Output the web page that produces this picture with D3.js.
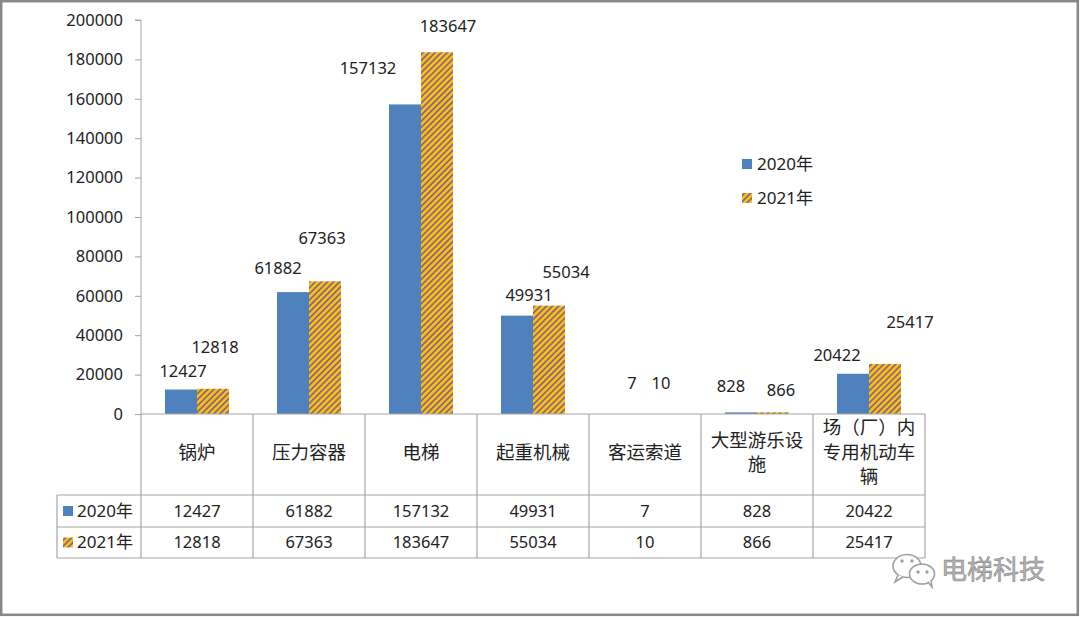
<!doctype html>
<html lang="zh">
<head>
    <meta charset="utf-8">
    <script src="https://d3js.org/d3.v7.min.js"></script>
    <style>
        html, body {
            margin: 0;
            padding: 0;
            background: #fff;
        }

        svg text {
            font-family: "Noto Sans", "Noto Sans CJK SC", sans-serif;
            fill: #222;
        }
    </style>
</head>
<body>
<svg id="svg" width="1080" height="617"></svg>
<script>
    // chart data
    var categories = ["锅炉", "压力容器", "电梯", "起重机械", "客运索道", "大型游乐设施", "场（厂）内专用机动车辆"];
    var headerLines = [["锅炉"], ["压力容器"], ["电梯"], ["起重机械"], ["客运索道"], ["大型游乐设", "施"], ["场（厂）内", "专用机动车", "辆"]];
    var seriesNames = ["2020年", "2021年"];
    var values2020 = [12427, 61882, 157132, 49931, 7, 828, 20422];
    var values2021 = [12818, 67363, 183647, 55034, 10, 866, 25417];
    var yTicks = [0, 20000, 40000, 60000, 80000, 100000, 120000, 140000, 160000, 180000, 200000];

    // hand placed data labels (dx, dy from bar centre / top), like in the original
    var labelNudge = [
        [[2, -18], [2, -42]],
        [[-15, -24], [-3, -43]],
        [[-37, -36], [11, -26]],
        [[12, -20], [17, -33]],
        [[3, -31], [0, -31]],
        [[-10, -26], [8, -22]],
        [[-16, -19], [25, -42]]
    ];

    var svg = d3.select("#svg");
    var gridColor = "#a6a6a6";
    var blue = "#4f81bd";

    var defs = svg.append("defs");
    var pat = defs.append("pattern")
        .attr("id", "hatch")
        .attr("patternUnits", "userSpaceOnUse")
        .attr("width", 4.3)
        .attr("height", 4.3)
        .attr("patternTransform", "rotate(45)");
    pat.append("rect").attr("width", 4.3).attr("height", 4.3).attr("fill", "#ffc000");
    pat.append("rect").attr("width", 1.7).attr("height", 4.3).attr("fill", "#8064a2");

    // outer frame
    svg.append("rect")
        .attr("x", 1.2).attr("y", 1.2)
        .attr("width", 1076.6).attr("height", 613.6)
        .attr("fill", "none")
        .attr("stroke", "#878787")
        .attr("stroke-width", 2.5);

    var plotLeft = 141, plotRight = 925, plotTop = 20, zero = 414;

    var x = d3.scaleBand().domain(categories).range([plotLeft, plotRight]).padding(0);
    var xs = d3.scaleBand().domain(seriesNames).range([-32, 32]).padding(0);
    var y = d3.scaleLinear().domain([0, 200000]).range([zero, plotTop]);

    // y axis
    var yAxis = d3.axisLeft(y).tickValues(yTicks).tickSize(6).tickPadding(12).tickFormat(d3.format("d"));
    var ya = svg.append("g").attr("transform", "translate(" + plotLeft + ",0)").call(yAxis);
    ya.select(".domain").attr("stroke", gridColor).attr("d", "M-6," + plotTop + "H0V" + zero);
    ya.selectAll(".tick line").attr("stroke", gridColor);
    ya.selectAll(".tick text")
        .attr("font-size", 16.5)
        .style("font-family", "'Noto Sans', sans-serif")
        .attr("fill", "#222");

    // bars
    var series = [values2020, values2021];
    var fills = [blue, "url(#hatch)"];
    series.forEach(function (vals, si) {
        svg.append("g").selectAll("rect")
            .data(vals)
            .enter().append("rect")
            .attr("x", function (d, i) { return x(categories[i]) + x.bandwidth() / 2 + xs(seriesNames[si]); })
            .attr("y", function (d) { return y(d); })
            .attr("width", xs.bandwidth())
            .attr("height", function (d) { return zero - y(d); })
            .attr("fill", fills[si]);
    });

    // data labels
    series.forEach(function (vals, si) {
        svg.append("g").selectAll("text")
            .data(vals)
            .enter().append("text")
            .attr("x", function (d, i) {
                return x(categories[i]) + x.bandwidth() / 2 + xs(seriesNames[si]) + xs.bandwidth() / 2 + labelNudge[i][si][0];
            })
            .attr("y", function (d, i) { return y(d) + labelNudge[i][si][1]; })
            .attr("dy", "0.35em")
            .attr("text-anchor", "middle")
            .attr("font-size", 16.5)
            .text(function (d) { return d; });
    });

    // data table under the axis
    var rowTop = [zero, 495, 527, 558];
    var tableLeft = 57;
    var tg = svg.append("g").attr("stroke", gridColor).attr("stroke-width", 1.2);
    tg.append("line").attr("x1", plotLeft).attr("x2", plotRight).attr("y1", zero).attr("y2", zero);
    [1, 2, 3].forEach(function (r) {
        tg.append("line").attr("x1", tableLeft).attr("x2", plotRight)
            .attr("y1", rowTop[r]).attr("y2", rowTop[r]);
    });
    tg.append("line").attr("x1", tableLeft).attr("x2", tableLeft).attr("y1", rowTop[1]).attr("y2", rowTop[3]);
    categories.concat(["end"]).forEach(function (c, i) {
        var xx = i < categories.length ? x(c) : plotRight;
        tg.append("line").attr("x1", xx).attr("x2", xx).attr("y1", zero).attr("y2", rowTop[3]);
    });

    // header cells
    categories.forEach(function (c, i) {
        var lines = headerLines[i];
        var cx = x(c) + x.bandwidth() / 2;
        var mid = (zero + rowTop[1]) / 2 - 2;
        lines.forEach(function (l, k) {
            svg.append("text")
                .attr("x", cx)
                .attr("y", mid + (k - (lines.length - 1) / 2) * 24.5)
                .attr("dy", "0.35em")
                .attr("text-anchor", "middle")
                .attr("font-size", 18.5)
                .text(l);
        });
    });

    // value rows
    series.forEach(function (vals, si) {
        var cy = (rowTop[si + 1] + rowTop[si + 2]) / 2;
        vals.forEach(function (v, i) {
            svg.append("text")
                .attr("x", x(categories[i]) + x.bandwidth() / 2)
                .attr("y", cy)
                .attr("dy", "0.35em")
                .attr("text-anchor", "middle")
                .attr("font-size", 16.5)
                .text(v);
        });
        svg.append("rect")
            .attr("x", 63).attr("y", cy - 5)
            .attr("width", 10).attr("height", 10)
            .attr("fill", fills[si]);
        svg.append("text")
            .attr("x", 77).attr("y", cy)
            .attr("dy", "0.35em")
            .attr("font-size", 17)
            .text(seriesNames[si]);
    });

    // legend in the plot
    seriesNames.forEach(function (s, si) {
        var ly = 164 + si * 34;
        svg.append("rect")
            .attr("x", 742).attr("y", ly - 5)
            .attr("width", 10).attr("height", 10)
            .attr("fill", fills[si]);
        svg.append("text")
            .attr("x", 757).attr("y", ly)
            .attr("dy", "0.35em")
            .attr("font-size", 17)
            .text(s);
    });

    // watermark
    var wm = svg.append("g").attr("fill", "#fff").attr("stroke", "#a0a0a0").attr("stroke-width", 1.6);
    wm.append("ellipse").attr("cx", 907).attr("cy", 566).attr("rx", 14).attr("ry", 11.5);
    wm.append("path").attr("d", "M898,575 L895,582 L903,577");
    wm.append("ellipse").attr("cx", 922).attr("cy", 574).attr("rx", 12.5).attr("ry", 10);
    wm.append("path").attr("d", "M928,582 L932,587 L931,580");
    var dots = [[902, 561], [912, 561], [918, 572], [927, 572]];
    svg.append("g").selectAll("circle").data(dots).enter().append("circle")
        .attr("cx", function (d) { return d[0]; })
        .attr("cy", function (d) { return d[1]; })
        .attr("r", 1.7)
        .attr("fill", "#a0a0a0");
    svg.append("text")
        .attr("x", 941).attr("y", 570)
        .attr("dy", "0.35em")
        .attr("font-size", 26)
        .style("fill", "#b4b4b4")
        .attr("stroke", "#8a8a8a")
        .attr("stroke-width", 0.6)
        .text("电梯科技");
</script>
</body>
</html>
